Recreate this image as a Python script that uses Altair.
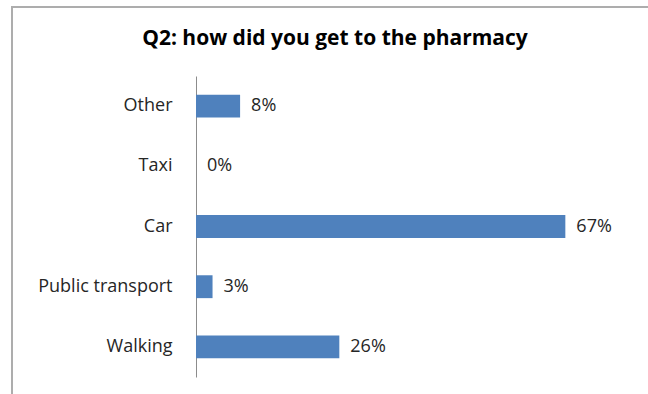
import altair as alt
import pandas as pd

# Survey answers, top to bottom as listed on the axis
modes = ["Other", "Taxi", "Car", "Public transport", "Walking"]
shares = [8, 0, 67, 3, 26]
labels = [f"{v}%" for v in shares]
title_text = "Q2: how did you get to the pharmacy"

df = pd.DataFrame({"mode": modes, "share": shares, "label": labels})

FONT = "Open Sans"
TEXT = "#262626"

y_enc = alt.Y(
    "mode:N",
    sort=modes,
    scale=alt.Scale(paddingInner=0.62, paddingOuter=0.31),
    axis=alt.Axis(
        title=None,
        ticks=False,
        domainColor="#8c8c8c",
        domainWidth=1,
        labelFont=FONT,
        labelFontSize=18,
        labelColor=TEXT,
        labelPadding=24,
        grid=False,
    ),
)
x_enc = alt.X("share:Q", scale=alt.Scale(domain=[0, 80]), axis=None)

# outer frame of the chart area
frame = alt.Chart(df).mark_rect(
    filled=False, stroke="#adadad", strokeWidth=1.5
).encode(
    x=alt.value(-184), x2=alt.value(700), y=alt.value(-69), y2=alt.value(500)
)

heading = alt.Chart(pd.DataFrame({"t": [title_text]})).mark_text(
    font=FONT, fontSize=21, fontWeight="bold", color="#000000",
    align="center", baseline="middle",
).encode(x=alt.value(139), y=alt.value(-37), text="t:N")

bars = alt.Chart(df).mark_bar(color="#4f81bd").encode(x=x_enc, y=y_enc)

values = alt.Chart(df).mark_text(
    align="left", baseline="middle", dx=11, font=FONT, fontSize=18, color=TEXT
).encode(x=x_enc, y=y_enc, text="label:N")

chart = (
    alt.layer(frame, heading, bars, values)
    .properties(
        width=441,
        height=301,
        autosize=alt.AutoSizeParams(type="none"),
        padding={"left": 196, "top": 76, "right": 11, "bottom": 17},
    )
    .configure_view(stroke=None)
)

chart.save("out.html", embed_options={"renderer": "svg", "actions": False})
